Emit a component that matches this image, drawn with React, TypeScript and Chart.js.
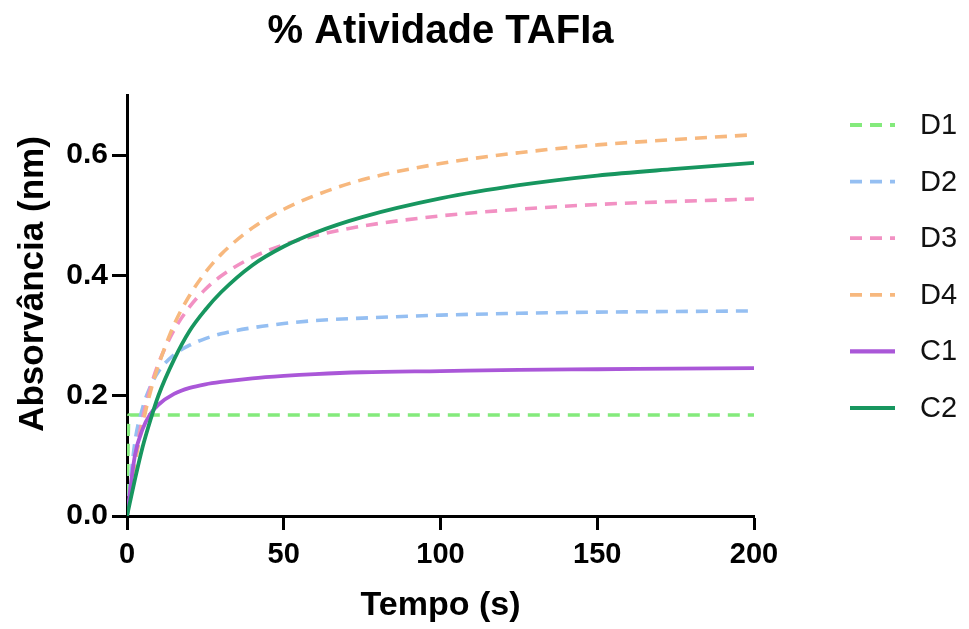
import React, { useEffect, useRef } from "react";
import { Chart, registerables } from "chart.js";

Chart.register(...registerables);

const chartTitle = "% Atividade TAFIa";
const xTitle = "Tempo (s)";
const yTitle = "Absorvância (nm)";

const seriesLabels = ["D1", "D2", "D3", "D4", "C1", "C2"];
const seriesColors = ["#84ea7c", "#95bff2", "#f291c3", "#f7b87e", "#aa57d8", "#17965f"];
const seriesDashed = [true, true, true, true, false, false];

const timesD1 = [0, 0.6, 200];
const valuesD1 = [0, 0.168, 0.168];

const times = [0, 2.5, 5, 7.5, 10, 15, 20, 25, 30, 40, 50, 60, 75, 100, 125, 150, 175, 200];
const valuesD2 = [0, 0.122, 0.18, 0.216, 0.24, 0.268, 0.284, 0.295, 0.303, 0.313, 0.32, 0.325, 0.329, 0.334, 0.337, 0.339, 0.34, 0.341];
const valuesD3 = [0, 0.096, 0.163, 0.214, 0.253, 0.309, 0.348, 0.377, 0.399, 0.43, 0.451, 0.466, 0.482, 0.499, 0.51, 0.518, 0.523, 0.527];
const valuesD4 = [0, 0.086, 0.153, 0.207, 0.25, 0.318, 0.367, 0.405, 0.435, 0.479, 0.51, 0.533, 0.559, 0.586, 0.604, 0.617, 0.626, 0.634];
const valuesC1 = [0, 0.1, 0.145, 0.17, 0.185, 0.203, 0.213, 0.219, 0.223, 0.229, 0.233, 0.236, 0.239, 0.241, 0.243, 0.244, 0.245, 0.246];
const valuesC2 = [0, 0.06, 0.115, 0.16, 0.2, 0.26, 0.308, 0.343, 0.372, 0.417, 0.448, 0.471, 0.497, 0.528, 0.55, 0.566, 0.577, 0.587];

const xTicks = [0, 50, 100, 150, 200];
const yTicks = [0, 0.2, 0.4, 0.6];

const FONT = "'Liberation Sans', Arial, Helvetica, sans-serif";

function pts(xs: number[], ys: number[]) {
  return xs.map((x, i) => ({ x, y: ys[i] }));
}

const overlayPlugin = {
  id: "overlay",
  afterDraw(chart: any) {
    const ctx = chart.ctx as CanvasRenderingContext2D;
    ctx.save();
    ctx.translate(33, 284);
    ctx.rotate(-Math.PI / 2);
    ctx.font = `bold 35px ${FONT}`;
    ctx.fillStyle = "#000";
    ctx.textAlign = "center";
    ctx.textBaseline = "middle";
    ctx.fillText(yTitle, 0, 0);
    ctx.restore();

    chart.data.datasets.forEach((ds: any, i: number) => {
      const y = 125 + i * 56.6;
      ctx.save();
      ctx.strokeStyle = ds.borderColor;
      ctx.lineWidth = ds.borderDash && ds.borderDash.length ? 3.8 : 4.2;
      ctx.setLineDash(ds.borderDash || []);
      ctx.beginPath();
      ctx.moveTo(850, y);
      ctx.lineTo(895, y);
      ctx.stroke();
      ctx.setLineDash([]);
      ctx.fillStyle = "#111";
      ctx.font = `29px ${FONT}`;
      ctx.textAlign = "left";
      ctx.textBaseline = "middle";
      ctx.fillText(ds.label, 920, y + 1);
      ctx.restore();
    });
  },
};

export default function App() {
  const ref = useRef<HTMLCanvasElement | null>(null);

  useEffect(() => {
    if (!ref.current) return;
    const seriesData = [
      pts(timesD1, valuesD1),
      pts(times, valuesD2),
      pts(times, valuesD3),
      pts(times, valuesD4),
      pts(times, valuesC1),
      pts(times, valuesC2),
    ];
    const orders = [5, 4, 3, 2, 1, 0];
    const chart = new Chart(ref.current, {
      type: "line",
      data: {
        datasets: seriesLabels.map((label, i) => ({
          label,
          data: seriesData[i],
          borderColor: seriesColors[i],
          backgroundColor: seriesColors[i],
          borderWidth: seriesDashed[i] ? 3.6 : 3.8,
          borderDash: seriesDashed[i] ? [12, 8] : [],
          pointRadius: 0,
          cubicInterpolationMode: "monotone",
          fill: false,
          order: orders[i],
        })),
      },
      options: {
        animation: false,
        responsive: false,
        maintainAspectRatio: false,
        layout: { padding: { left: 0, right: 215, top: 0, bottom: 0 } },
        plugins: {
          legend: { display: false },
          tooltip: { enabled: false },
          title: {
            display: true,
            text: chartTitle,
            fullSize: false,
            color: "#000",
            font: { family: FONT, size: 40, weight: "bold" },
            padding: { top: 8, bottom: 39 },
          },
        },
        scales: {
          x: {
            type: "linear",
            min: 0,
            max: 200,
            afterFit: (s: any) => {
              s.height = 113;
            },
            afterBuildTicks: (s: any) => {
              s.ticks = xTicks.map((v) => ({ value: v }));
            },
            border: { display: true, color: "#000", width: 3 },
            grid: { display: true, drawOnChartArea: false, drawTicks: true, tickLength: 14, tickWidth: 3, tickColor: "#000" },
            ticks: {
              color: "#000",
              padding: 8,
              font: { family: FONT, size: 29, weight: "bold" },
              callback: (v: any) => String(v),
            },
            title: {
              display: true,
              text: xTitle,
              color: "#000",
              font: { family: FONT, size: 34, weight: "bold" },
              padding: { top: 0, bottom: 3 },
            },
          },
          y: {
            type: "linear",
            min: 0,
            max: 0.7,
            afterFit: (s: any) => {
              s.width = 127;
            },
            afterBuildTicks: (s: any) => {
              s.ticks = yTicks.map((v) => ({ value: v }));
            },
            border: { display: true, color: "#000", width: 3 },
            grid: { display: true, drawOnChartArea: false, drawTicks: true, tickLength: 15, tickWidth: 3, tickColor: "#000" },
            ticks: {
              color: "#000",
              padding: 4,
              font: { family: FONT, size: 30, weight: "bold" },
              callback: (v: any) => Number(v).toFixed(1),
            },
          },
        },
      },
      plugins: [overlayPlugin],
    } as any);
    return () => chart.destroy();
  }, []);

  return (
    <div style={{ position: "fixed", left: 0, top: 0, width: 969, height: 629, background: "#fff" }}>
      <canvas ref={ref} width={969} height={629} style={{ width: 969, height: 629, display: "block" }} />
    </div>
  );
}
